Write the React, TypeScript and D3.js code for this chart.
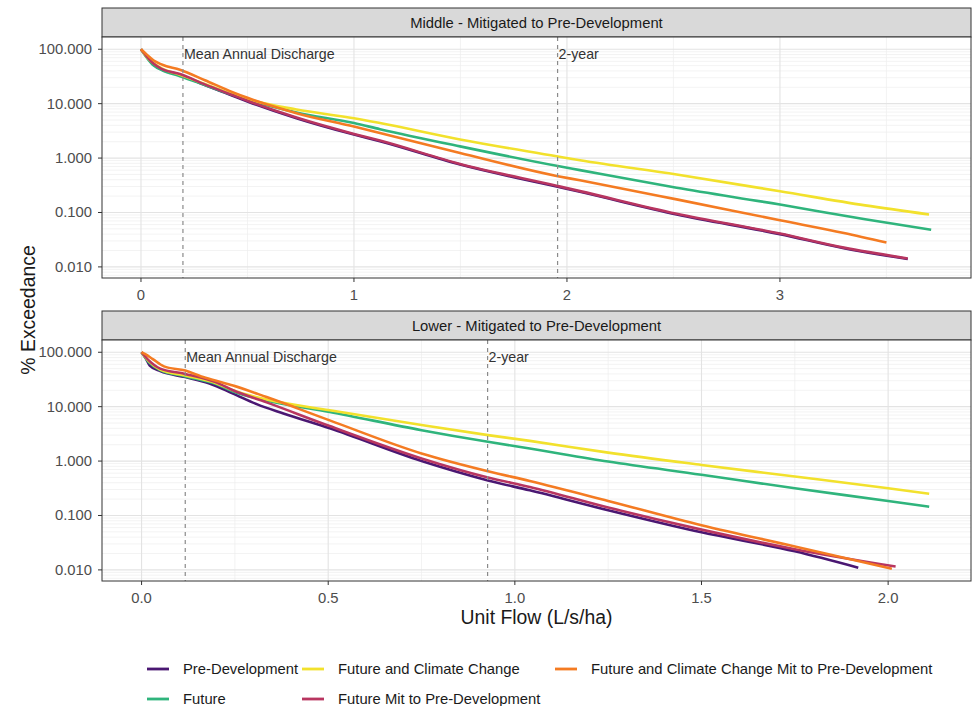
import React from 'react';
import * as d3 from 'd3';

const seriesNames = [
  'Pre-Development',
  'Future',
  'Future and Climate Change',
  'Future Mit to Pre-Development',
  'Future and Climate Change Mit to Pre-Development',
];
const seriesColors = ['#4a1772', '#2fb47c', '#f2e12c', '#b83560', '#f47b22'];

// Middle panel: [unit flow, % exceedance]
const midPreDev: [number, number][] = [[0,100],[0.03,70],[0.06,52],[0.1,42],[0.183,34],[0.3,22],[0.43,14],[0.5,11],[0.73,5.4],[1.0,2.7],[1.122,2.04],[1.498,0.76],[1.951,0.30],[2.061,0.24],[2.515,0.092],[3.0,0.040],[3.3,0.022],[3.6,0.014]];
const midFuture: [number, number][] = [[0,100],[0.03,68],[0.06,50],[0.1,41],[0.183,32],[0.3,22],[0.43,14.5],[0.5,11.8],[0.73,6.9],[1.0,4.4],[1.122,3.4],[1.498,1.64],[1.951,0.72],[2.061,0.60],[2.515,0.285],[3.0,0.14],[3.4,0.075],[3.71,0.048]];
const midFutureCC: [number, number][] = [[0,100],[0.03,70],[0.06,55],[0.1,44],[0.183,34],[0.3,23],[0.43,15],[0.5,12.2],[0.73,7.8],[1.0,5.4],[1.122,4.4],[1.498,2.2],[1.951,1.08],[2.061,0.91],[2.515,0.50],[3.0,0.245],[3.4,0.135],[3.70,0.092]];
const midFutureMit: [number, number][] = [[0,100],[0.03,72],[0.06,54],[0.1,43],[0.183,35],[0.3,22.6],[0.43,14.4],[0.5,11.3],[0.73,5.55],[1.0,2.78],[1.122,2.1],[1.498,0.78],[1.951,0.31],[2.061,0.247],[2.515,0.095],[3.0,0.041],[3.3,0.0226],[3.6,0.0143]];
const midFutureCCMit: [number, number][] = [[0,100],[0.03,78],[0.06,62],[0.1,52],[0.183,42],[0.3,27],[0.43,16.3],[0.5,12.8],[0.73,6.7],[1.0,3.8],[1.122,2.9],[1.498,1.24],[1.951,0.47],[2.061,0.39],[2.515,0.174],[3.0,0.072],[3.3,0.042],[3.5,0.028]];

// Lower panel
const lowPreDev: [number, number][] = [[0,100],[0.01,80],[0.022,57],[0.05,45],[0.117,35],[0.18,27],[0.245,17.4],[0.31,11],[0.38,7.5],[0.504,4.0],[0.75,1.0],[0.928,0.44],[1.04,0.29],[1.25,0.125],[1.5,0.049],[1.75,0.022],[1.92,0.011]];
const lowFuture: [number, number][] = [[0,100],[0.02,65],[0.05,47],[0.117,36],[0.2,26],[0.245,19],[0.335,13],[0.504,8.0],[0.75,3.7],[0.928,2.26],[1.04,1.7],[1.25,0.98],[1.5,0.56],[1.75,0.316],[2.0,0.185],[2.11,0.145]];
const lowFutureCC: [number, number][] = [[0,100],[0.02,68],[0.05,48],[0.117,37.5],[0.2,27],[0.245,20],[0.335,13.5],[0.504,8.6],[0.75,4.6],[0.928,3.0],[1.04,2.35],[1.25,1.43],[1.5,0.85],[1.75,0.52],[2.0,0.316],[2.11,0.25]];
const lowFutureMit: [number, number][] = [[0,100],[0.02,70],[0.05,50],[0.117,40],[0.2,28],[0.245,20],[0.335,12],[0.504,4.4],[0.75,1.12],[0.928,0.5],[1.04,0.335],[1.25,0.14],[1.5,0.055],[1.75,0.024],[2.02,0.0115]];
const lowFutureCCMit: [number, number][] = [[0,100],[0.01,92],[0.03,75],[0.06,55],[0.117,46],[0.16,36],[0.2,30],[0.245,24.5],[0.335,15],[0.504,5.6],[0.75,1.38],[0.928,0.65],[1.04,0.43],[1.25,0.185],[1.5,0.066],[1.75,0.027],[2.01,0.0105]];

const midSeries = [midPreDev, midFuture, midFutureCC, midFutureMit, midFutureCCMit];
const lowSeries = [lowPreDev, lowFuture, lowFutureCC, lowFutureMit, lowFutureCCMit];

const yTicks = [100, 10, 1, 0.1, 0.01];
const midXTicks = [0, 1, 2, 3];
const midXMinor = [0.5, 1.5, 2.5, 3.5];
const lowXTicks = [0, 0.5, 1, 1.5, 2];
const lowXMinor = [0.25, 0.75, 1.25, 1.75];

const midMAD = 0.197;
const mid2yr = 1.956;
const lowMAD = 0.117;
const low2yr = 0.927;

const FONT = 'Liberation Sans, Arial, sans-serif';

type PanelProps = {
  title: string;
  top: number;
  series: [number, number][][];
  xDomain: [number, number];
  yDomain: [number, number];
  xTicks: number[];
  xMinor: number[];
  xFmt: (v: number) => string;
  mad: number;
  twoYr: number;
};

const L = 102;
const R = 971;
const STRIP = 29;
const PH = 241;

function Panel(p: PanelProps) {
  const stripTop = p.top;
  const plotTop = stripTop + STRIP;
  const plotBot = plotTop + PH;
  const x = d3.scaleLinear().domain(p.xDomain).range([L, R]);
  const y = d3.scaleLog().domain(p.yDomain).range([plotBot, plotTop]);
  const line = d3
    .line<[number, number]>()
    .x((d) => x(d[0]))
    .y((d) => y(d[1]))
    .curve(d3.curveMonotoneX);
  const minorY: number[] = [];
  for (let e = -3; e <= 3; e++) {
    for (let k = 2; k <= 9; k++) {
      const v = k * Math.pow(10, e);
      if (v > p.yDomain[0] && v < p.yDomain[1]) minorY.push(v);
    }
  }
  return (
    <g>
      <rect x={L} y={stripTop} width={R - L} height={STRIP} fill="#d9d9d9" stroke="#333" strokeWidth={1} />
      <text x={(L + R) / 2} y={stripTop + STRIP / 2 + 5} textAnchor="middle" fontSize={14.8} fill="#1a1a1a" fontFamily={FONT}>
        {p.title}
      </text>
      <clipPath id={'clip' + p.top}>
        <rect x={L} y={plotTop} width={R - L} height={PH} />
      </clipPath>
      <rect x={L} y={plotTop} width={R - L} height={PH} fill="#fff" />
      {minorY.map((v, i) => (
        <line key={'my' + i} x1={L} x2={R} y1={y(v)} y2={y(v)} stroke="#eeeeee" strokeWidth={0.7} />
      ))}
      {p.xMinor.filter((v) => v > p.xDomain[0] && v < p.xDomain[1]).map((v, i) => (
        <line key={'mx' + i} x1={x(v)} x2={x(v)} y1={plotTop} y2={plotBot} stroke="#eeeeee" strokeWidth={0.7} />
      ))}
      {yTicks.map((v, i) => (
        <line key={'gy' + i} x1={L} x2={R} y1={y(v)} y2={y(v)} stroke="#e3e3e3" strokeWidth={1.1} />
      ))}
      {p.xTicks.map((v, i) => (
        <line key={'gx' + i} x1={x(v)} x2={x(v)} y1={plotTop} y2={plotBot} stroke="#e3e3e3" strokeWidth={1.1} />
      ))}
      <g clipPath={`url(#clip${p.top})`}>
        {p.series.map((s, i) => (
          <path key={'s' + i} d={line(s) || ''} fill="none" stroke={seriesColors[i]} strokeWidth={2.6} strokeLinejoin="round" strokeLinecap="butt" />
        ))}
      </g>
      {[p.mad, p.twoYr].map((v, i) => (
        <line key={'v' + i} x1={x(v)} x2={x(v)} y1={plotTop} y2={plotBot} stroke="#8a8a8a" strokeWidth={1.2} strokeDasharray="4,4" />
      ))}
      <text x={x(p.mad) + 1} y={y(100) + 9.5} fontSize={14.2} fill="#333" fontFamily={FONT}>Mean Annual Discharge</text>
      <text x={x(p.twoYr) + 1} y={y(100) + 9.5} fontSize={14.2} fill="#333" fontFamily={FONT}>2-year</text>
      <rect x={L} y={plotTop} width={R - L} height={PH} fill="none" stroke="#333" strokeWidth={1} />
      {yTicks.map((v, i) => (
        <g key={'ty' + i}>
          <line x1={L - 4} x2={L} y1={y(v)} y2={y(v)} stroke="#333" strokeWidth={1} />
          <text x={L - 10} y={y(v) + 5} textAnchor="end" fontSize={14.8} fill="#4d4d4d" fontFamily={FONT}>
            {d3.format('.3f')(v)}
          </text>
        </g>
      ))}
      {p.xTicks.map((v, i) => (
        <g key={'tx' + i}>
          <line x1={x(v)} x2={x(v)} y1={plotBot} y2={plotBot + 4} stroke="#333" strokeWidth={1} />
          <text x={x(v)} y={plotBot + 22} textAnchor="middle" fontSize={14.8} fill="#4d4d4d" fontFamily={FONT}>
            {p.xFmt(v)}
          </text>
        </g>
      ))}
    </g>
  );
}

const legendCols = [147, 302, 555];
const legendRows = [669, 699];
const legendLayout = [
  [0, 0],
  [0, 1],
  [1, 0],
  [1, 1],
  [2, 0],
];

export default function App() {
  return (
    <svg width={973} height={706} style={{ position: 'absolute', left: 0, top: 0, background: '#fff' }}>
      <rect x={0} y={0} width={973} height={706} fill="#fff" />
      <Panel
        title="Middle - Mitigated to Pre-Development"
        top={8}
        series={midSeries}
        xDomain={[-0.183, 3.897]}
        yDomain={[0.00625, 168]}
        xTicks={midXTicks}
        xMinor={midXMinor}
        xFmt={(v) => d3.format('d')(v)}
        mad={midMAD}
        twoYr={mid2yr}
      />
      <Panel
        title="Lower - Mitigated to Pre-Development"
        top={311}
        series={lowSeries}
        xDomain={[-0.106, 2.222]}
        yDomain={[0.00625, 168]}
        xTicks={lowXTicks}
        xMinor={lowXMinor}
        xFmt={(v) => d3.format('.1f')(v)}
        mad={lowMAD}
        twoYr={low2yr}
      />
      <text x={(L + R) / 2} y={624} textAnchor="middle" fontSize={19.4} fill="#1a1a1a" fontFamily={FONT}>
        Unit Flow (L/s/ha)
      </text>
      <text transform="translate(35,310) rotate(-90)" textAnchor="middle" fontSize={19.4} fill="#1a1a1a" fontFamily={FONT}>
        % Exceedance
      </text>
      {seriesNames.map((n, i) => {
        const [c, r] = legendLayout[i];
        const lx = legendCols[c];
        const ly = legendRows[r];
        return (
          <g key={'lg' + i}>
            <line x1={lx} x2={lx + 22} y1={ly} y2={ly} stroke={seriesColors[i]} strokeWidth={2.8} />
            <text x={lx + 36} y={ly + 5} fontSize={14.8} fill="#1a1a1a" fontFamily={FONT}>
              {n}
            </text>
          </g>
        );
      })}
    </svg>
  );
}
